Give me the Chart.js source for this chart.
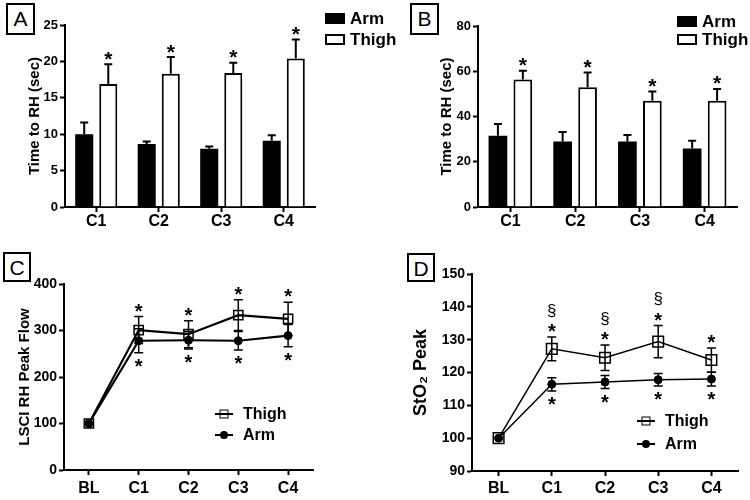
<!DOCTYPE html>
<html>
<head>
<meta charset="utf-8">
<script src="https://cdn.jsdelivr.net/npm/chart.js@4.4.0/dist/chart.umd.min.js"></script>
<style>
  html, body { margin: 0; padding: 0; background: #fff; }
  #wrap { position: relative; width: 750px; height: 500px; overflow: hidden;
          font-family: "Liberation Sans", Arial, sans-serif; color: #000; }
  canvas { position: absolute; }
  .tag { position: absolute; border: 2px solid #000; box-sizing: border-box;
         font-size: 21px; line-height: 28px; text-align: center; background: #fff; }
  .leg { position: absolute; font-weight: bold; font-size: 17px; line-height: 20px; white-space: nowrap; }
  .leg span { display: inline-block; vertical-align: middle; }
  .box { width: 20px; height: 11px; box-sizing: border-box; border: 2px solid #000; margin-right: 5px; }
  .box.fill { background: #000; }
  .mk { position: relative; width: 18px; height: 2px; background: #000; margin-right: 10px; }
  .mk i { position: absolute; left: 50%; top: 50%; transform: translate(-50%, -50%); box-sizing: border-box; }
  .mk i.sq { width: 9px; height: 9px; border: 1.5px solid #000; background: transparent; }
  .mk i.dot { width: 8px; height: 8px; border-radius: 50%; background: #000; }
</style>
</head>
<body>
<div id="wrap">
  <canvas id="chartA" width="375" height="250" style="left:0;top:0"></canvas>
  <canvas id="chartB" width="375" height="250" style="left:375px;top:0"></canvas>
  <canvas id="chartC" width="375" height="250" style="left:0;top:250px"></canvas>
  <canvas id="chartD" width="375" height="250" style="left:375px;top:250px"></canvas>

  <div class="tag" style="left:6px;top:3px;width:29px;height:32px">A</div>
  <div class="tag" style="left:410px;top:3px;width:29px;height:32px">B</div>
  <div class="tag" style="left:3px;top:252px;width:28px;height:30px">C</div>
  <div class="tag" style="left:407px;top:253px;width:28px;height:29px">D</div>

  <div class="leg" style="left:325px;top:8px"><span class="box fill"></span><span>Arm</span></div>
  <div class="leg" style="left:325px;top:29px"><span class="box"></span><span>Thigh</span></div>
  <div class="leg" style="left:677px;top:11px"><span class="box fill"></span><span>Arm</span></div>
  <div class="leg" style="left:677px;top:29px"><span class="box"></span><span>Thigh</span></div>

  <div class="leg" style="left:215px;top:403px;font-size:16px"><span class="mk"><i class="sq"></i></span><span>Thigh</span></div>
  <div class="leg" style="left:215px;top:424px;font-size:16px"><span class="mk"><i class="dot"></i></span><span>Arm</span></div>
  <div class="leg" style="left:637px;top:410px;font-size:16px"><span class="mk"><i class="sq"></i></span><span>Thigh</span></div>
  <div class="leg" style="left:637px;top:433px;font-size:16px"><span class="mk"><i class="dot"></i></span><span>Arm</span></div>
</div>
<script>
const FONT = "'Liberation Sans', Arial, sans-serif";
Chart.defaults.font.family = FONT;
Chart.defaults.color = "#000";

// categories
const cats4 = ["C1", "C2", "C3", "C4"];
const cats5 = ["BL", "C1", "C2", "C3", "C4"];

// panel A: time to RH (sec)
const armA = [10.0, 8.65, 8.0, 9.1];
const armAErr = [1.6, 0.35, 0.3, 0.75];
const thighA = [16.9, 18.3, 18.4, 20.4];
const thighAErr = [2.7, 2.3, 1.4, 2.6];
const starA = ["*", "*", "*", "*"];

// panel B: time to RH (sec)
const armB = [31.5, 28.9, 28.9, 25.9];
const armBErr = [5.2, 4.2, 2.9, 3.4];
const thighB = [56.4, 52.9, 47.0, 47.0];
const thighBErr = [3.8, 6.5, 4.0, 5.2];
const starB = ["*", "*", "*", "*"];

// panel C: LSCI RH peak flow
const thighC = [100, 301, 292, 333, 325];
const thighCErr = [0, 29, 29, 33, 36];
const armC = [100, 278, 279, 278, 289];
const armCErr = [0, 26, 19, 20, 24];
const starC = ["", "*", "*", "*", "*"];

// panel D: StO2 peak
const thighD = [100, 127.2, 124.5, 129.4, 123.8];
const thighDErr = [0, 3.6, 3.9, 4.9, 3.7];
const armD = [100, 116.4, 117.1, 117.8, 118.0];
const armDErr = [0, 2.0, 2.0, 1.9, 2.1];
const starD = ["", "*", "*", "*", "*"];
const sectD = ["", "§", "§", "§", ""];

// error bars + significance marks, placed through the y scale
const errorBars = {
  id: "errorBars",
  afterDatasetsDraw(chart) {
    const ctx = chart.ctx;
    const yScale = chart.scales.y;
    chart.data.datasets.forEach((ds, di) => {
      if (!ds.err) return;
      const meta = chart.getDatasetMeta(di);
      ctx.save();
      ctx.strokeStyle = "#000";
      ctx.fillStyle = "#000";
      ctx.lineWidth = ds.errWidth;
      ctx.textAlign = "center";
      ctx.textBaseline = "alphabetic";
      meta.data.forEach((el, i) => {
        const v = ds.data[i], e = ds.err[i];
        const x = el.x;
        const hi = yScale.getPixelForValue(v + e);
        const lo = yScale.getPixelForValue(ds.errBoth ? v - e : v);
        const c = ds.capWidth / 2;
        if (e > 0) {
          ctx.beginPath();
          ctx.moveTo(x, lo); ctx.lineTo(x, hi);
          ctx.moveTo(x - c, hi); ctx.lineTo(x + c, hi);
          if (ds.errBoth) { ctx.moveTo(x - c, lo); ctx.lineTo(x + c, lo); }
          ctx.stroke();
        }
        const s = ds.starSize;
        ctx.font = ds.starWeight + " " + s + "px " + FONT;
        if (ds.starsAbove && ds.starsAbove[i]) {
          const cy = hi - ds.starGap;
          ctx.fillText(ds.starsAbove[i], x, cy + 0.55 * s);
          if (ds.sectAbove && ds.sectAbove[i]) {
            ctx.font = "normal 17px " + FONT;
            const sy = cy - 16;
            ctx.fillText(ds.sectAbove[i], x, sy + 0.27 * 17);
          }
        }
        if (ds.starsBelow && ds.starsBelow[i]) {
          ctx.font = ds.starWeight + " " + s + "px " + FONT;
          const cy = lo + ds.starGap;
          ctx.fillText(ds.starsBelow[i], x, cy + 0.55 * s);
        }
      });
      ctx.restore();
    });
  }
};

function yAxis(min, max, step, title, titleSize, titlePad, width, tickSize) {
  return {
    min, max,
    ticks: { stepSize: step, color: "#000", padding: 2,
             font: { size: tickSize, weight: "bold" } },
    grid: { drawOnChartArea: false, drawTicks: true, tickLength: 5,
            tickWidth: 2, tickColor: "#000" },
    border: { display: true, color: "#000", width: 2 },
    title: { display: true, text: title, color: "#000",
             font: { size: titleSize, weight: "bold" },
             padding: { top: titlePad, bottom: 0 } },
    afterFit: (s) => { s.width = width; },
  };
}

function xAxis(height, pad) {
  return {
    offset: true,
    z: 1,
    ticks: { color: "#000", padding: pad, maxRotation: 0,
             font: { size: 16, weight: "bold" } },
    grid: { drawOnChartArea: false, offset: false, drawTicks: true,
            tickLength: 5, tickWidth: 2, tickColor: "#000" },
    border: { display: true, color: "#000", width: 2 },
    afterFit: (s) => { s.height = height; },
  };
}

function barChart(id, arm, armErr, thigh, thighErr, stars, yopt, padding) {
  return new Chart(document.getElementById(id), {
    type: "bar",
    data: {
      labels: cats4,
      datasets: [
        { label: "Arm", data: arm, backgroundColor: "#000", borderColor: "#000",
          borderWidth: 0, err: armErr, errWidth: 2, capWidth: 8,
          categoryPercentage: 0.77, barPercentage: 0.75 },
        { label: "Thigh", data: thigh, backgroundColor: "#fff", borderColor: "#000",
          borderWidth: 2, err: thighErr, errWidth: 2, capWidth: 8,
          starsAbove: stars, starGap: 10, starSize: 21, starWeight: "bold",
          categoryPercentage: 0.77, barPercentage: 0.75 },
      ],
    },
    options: {
      responsive: false,
      animation: false,
      layout: { padding },
      plugins: { legend: { display: false }, tooltip: { enabled: false } },
      scales: { x: xAxis(43, 0), y: yopt },
    },
    plugins: [errorBars],
  });
}

function lineChart(id, thigh, thighErr, arm, armErr, opts) {
  return new Chart(document.getElementById(id), {
    type: "line",
    data: {
      labels: cats5,
      datasets: [
        { label: "Thigh", data: thigh, borderColor: "#000", borderWidth: opts.lw,
          pointStyle: "rect", pointRadius: opts.sq, pointBorderWidth: 1.5,
          pointBackgroundColor: "rgba(0,0,0,0)", pointBorderColor: "#000",
          tension: 0, err: thighErr, errBoth: true, errWidth: 1.5, capWidth: 9,
          starsAbove: opts.starsT, sectAbove: opts.sect, starGap: 10,
          starSize: opts.starSize, starWeight: opts.starWeight },
        { label: "Arm", data: arm, borderColor: "#000", borderWidth: opts.lw,
          pointStyle: "circle", pointRadius: 4, pointBorderWidth: 1,
          pointBackgroundColor: "#000", pointBorderColor: "#000",
          tension: 0, err: armErr, errBoth: true, errWidth: 1.5, capWidth: 9,
          starsBelow: opts.starsA, starGap: 9,
          starSize: opts.starSize, starWeight: opts.starWeight },
      ],
    },
    options: {
      responsive: false,
      animation: false,
      layout: { padding: opts.padding },
      plugins: { legend: { display: false }, tooltip: { enabled: false } },
      scales: { x: xAxis(opts.xh, opts.xpad), y: opts.y },
    },
    plugins: [errorBars],
  });
}

barChart("chartA", armA, armAErr, thighA, thighAErr, starA,
  yAxis(0, 25, 5, "Time to RH (sec)", 15, 26, 65, 13),
  { left: 0, top: 25, right: 60, bottom: 0 });

barChart("chartB", armB, armBErr, thighB, thighBErr, starB,
  yAxis(0, 80, 20, "Time to RH (sec)", 15, 63, 103, 13),
  { left: 0, top: 26, right: 13, bottom: 0 });

lineChart("chartC", thighC, thighCErr, armC, armCErr, {
  lw: 2.2, sq: 6.5, starsT: starC, starsA: starC, sect: null,
  starSize: 20, starWeight: "bold", xh: 30, xpad: 4,
  padding: { left: 0, top: 34, right: 62, bottom: 0 },
  y: yAxis(0, 400, 100, "LSCI RH Peak Flow", 15, 16, 64, 14),
});

lineChart("chartD", thighD, thighDErr, armD, armDErr, {
  lw: 1.5, sq: 7.5, starsT: starD, starsA: starD, sect: sectD,
  starSize: 20, starWeight: "bold", xh: 29, xpad: 3,
  padding: { left: 0, top: 24, right: 12, bottom: 0 },
  y: yAxis(90, 150, 10, "StO\u2082 Peak", 18, 35, 97, 14),
});
</script>
</body>
</html>
